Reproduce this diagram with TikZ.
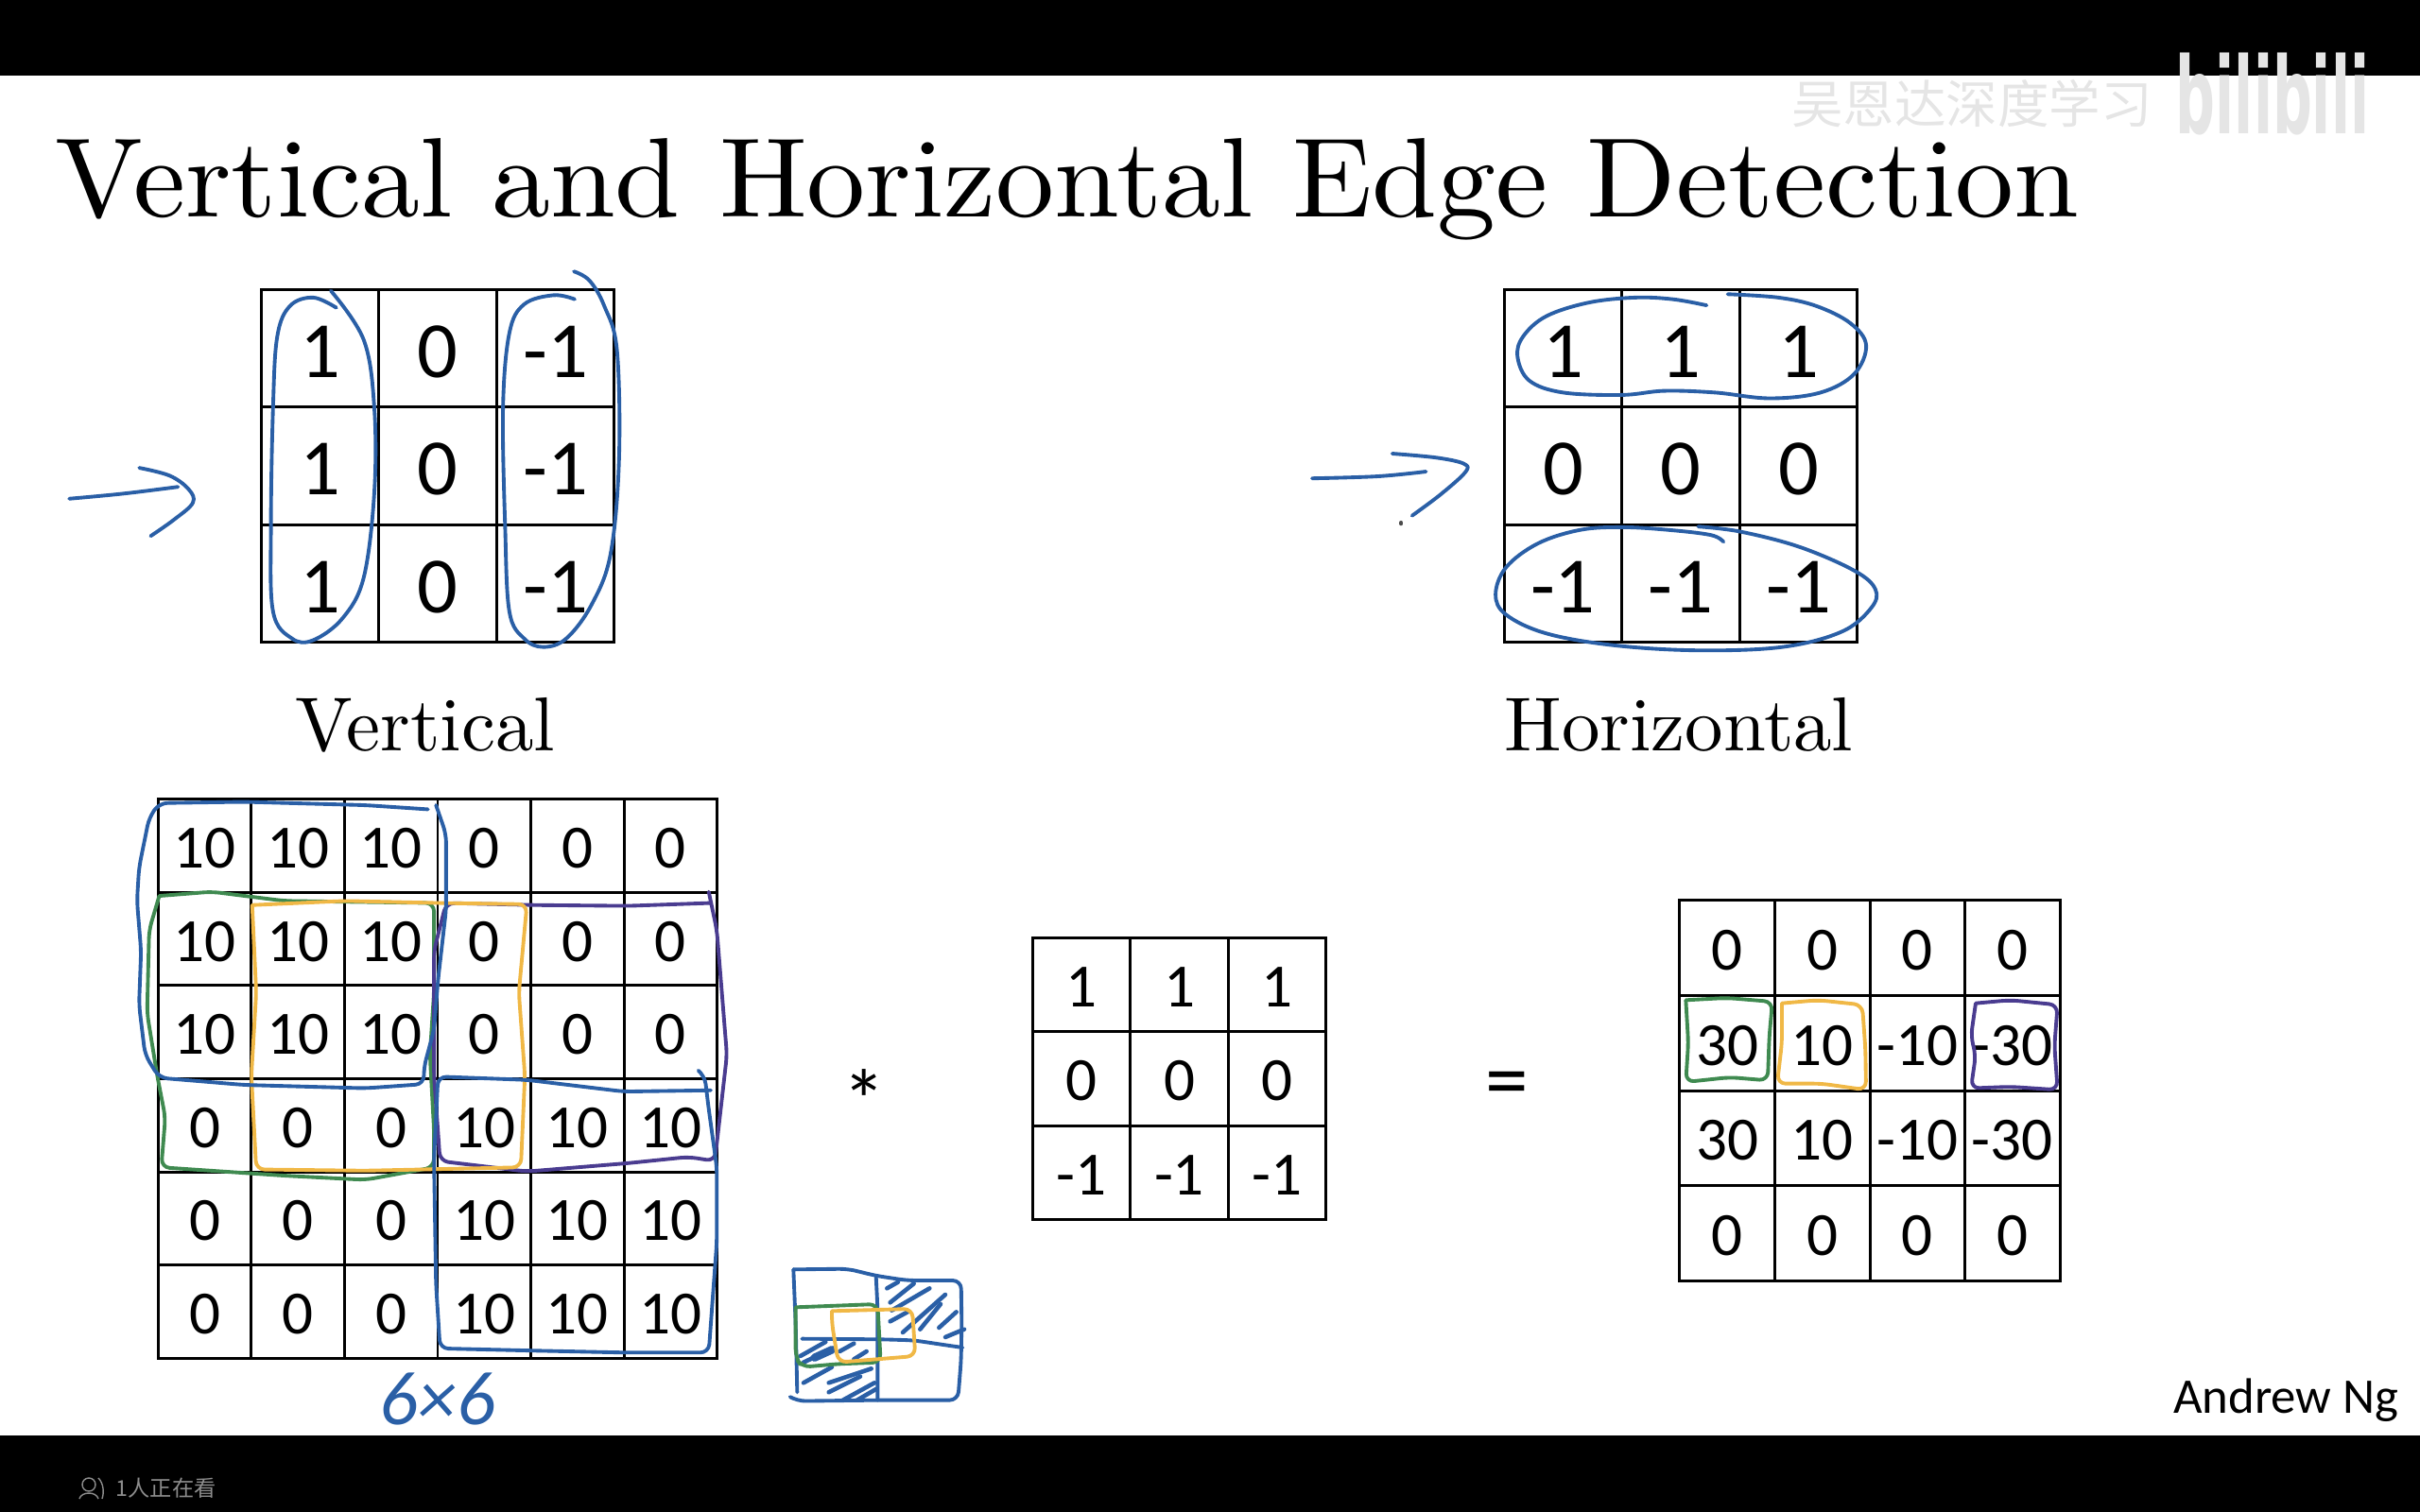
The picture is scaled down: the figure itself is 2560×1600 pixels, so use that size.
\documentclass[tikz,border=0pt]{standalone}
\usepackage{fontspec}
\usetikzlibrary{matrix}
\newfontfamily\slidefont{lmroman10-regular}[Extension=.otf]
\newfontfamily\calibri{Carlito}
\newfontfamily\cjk{Noto Sans CJK SC}
\newfontfamily\logofont{DejaVu Sans}
\definecolor{inkblue}{HTML}{2A5FA6}
\definecolor{inkgreen}{HTML}{3F8A50}
\definecolor{inkyellow}{HTML}{F0B846}
\definecolor{inkpurple}{HTML}{4A3C90}
\begin{document}
\begin{tikzpicture}[x=0.01cm,y=-0.01cm,
    % the grids:
    grid/.style={matrix of nodes,inner sep=0pt,outer sep=0pt,
      column sep=-.85pt,row sep=-.85pt,
      nodes={rectangle,draw=black,line width=.85pt,inner sep=0pt,outer sep=0pt,
        text depth=0pt,minimum width=#1,minimum height=#1}},
    bigdigits/.style={nodes={font=\calibri\fontsize{24}{28}\selectfont,text height=17.5pt}},
    smalldigits/.style={nodes={font=\calibri\fontsize{18.5}{22}\selectfont,text height=13.3pt}},
    % the pen strokes:
    ink/.style={draw=inkblue,line width=1.1pt,line cap=round,line join=round,smooth,tension=.6},
    boxink/.style={draw=#1,line width=1.1pt,line cap=round,line join=round,rounded corners=2.5pt},
    hatch/.style={ink,line width=1.3pt},
    % the crops the strokes were traced in:
    leftpart/.style={shift={(50,270)},xscale=.4464,yscale=.359},
    rightpart/.style={shift={(1350,270)},xscale=.4464,yscale=.359},
    sixpart/.style={shift={(130,830)},xscale=.4274,yscale=.4405},
    sketchpart/.style={shift={(800,1300)},xscale=.3333,yscale=.3333},
    resultpart/.style={shift={(1750,930)},xscale=.3333,yscale=.3333},
    heading/.style={font=\slidefont\fontsize{34}{40}\selectfont,inner sep=0pt},
    caption/.style={font=\slidefont\fontsize{23}{28}\selectfont,inner sep=0pt}]
  \useasboundingbox (0,0) rectangle (2560,1600);
  \fill[black] (0,0) rectangle (2560,80);
  \fill[black] (0,1519) rectangle (2560,1600);

  % watermark and footer
  \node[text=black!10,font=\cjk\fontsize{15.5}{18}\selectfont,inner sep=0pt] (mark) at (2086,110) {吴恩达深度学习};
  \node[text=black!10,font=\logofont\bfseries\fontsize{32}{36}\selectfont,inner sep=0pt,xscale=.52] (logo) at (2404,100) {bilibili};
  \node[text=black!45,font=\cjk\fontsize{6.6}{8}\selectfont,inner sep=0pt,anchor=west] (viewers) at (122,1575) {1人正在看};
  \draw[black!45,line width=.4pt] (94,1571) circle [radius=7];
  \draw[black!45,line width=.4pt] (84,1586) .. controls (86,1578) and (102,1578) .. (104,1586);
  \draw[black!45,line width=.4pt] (104,1564) .. controls (110,1570) and (110,1580) .. (108,1586);

  \node[heading,anchor=base west,xscale=1.036] (title) at (58,229) {Vertical and Horizontal Edge Detection};
  \node[caption,anchor=base] (vlabel) at (450,794) {Vertical};
  \node[caption,anchor=base] (hlabel) at (1776,794) {Horizontal};

  % the filters
  \matrix[grid=1.245cm,bigdigits] (vert) at (463,493) {
    1 & 0 & -1 \\
    1 & 0 & -1 \\
    1 & 0 & -1 \\};
  \matrix[grid=1.245cm,bigdigits] (horiz) at (1778,493) {
    1 & 1 & 1 \\
    0 & 0 & 0 \\
    -1 & -1 & -1 \\};

  % the convolution
  \matrix[grid=.985cm,smalldigits] (image) at (463,1141.5) {
    10 & 10 & 10 & 0 & 0 & 0 \\
    10 & 10 & 10 & 0 & 0 & 0 \\
    10 & 10 & 10 & 0 & 0 & 0 \\
    0 & 0 & 0 & 10 & 10 & 10 \\
    0 & 0 & 0 & 10 & 10 & 10 \\
    0 & 0 & 0 & 10 & 10 & 10 \\};
  \node[font=\calibri\fontsize{26}{30}\selectfont,inner sep=0pt] (times) at (914,1164) {*};
  \matrix[grid=1.035cm,smalldigits,nodes={minimum height=.995cm}] (kernel) at (1247.5,1141.5) {
    1 & 1 & 1 \\
    0 & 0 & 0 \\
    -1 & -1 & -1 \\};
  \node[font=\calibri\fontsize{26}{30}\selectfont,inner sep=0pt] (equals) at (1594,1154) {=};
  \matrix[grid=1.005cm,smalldigits] (result) at (1978,1154) {
    0 & 0 & 0 & 0 \\
    30 & 10 & -10 & -30 \\
    30 & 10 & -10 & -30 \\
    0 & 0 & 0 & 0 \\};
  \node[font=\calibri\fontsize{15}{18}\selectfont,inner sep=0pt,anchor=base east] (author) at (2538,1495) {Andrew Ng};
  \node[text=inkblue,font=\calibri\itshape\fontsize{23}{26}\selectfont,inner sep=0pt] (size) at (463,1480) {6×6};

  % pen strokes on the filters
  \begin{scope}[leftpart]
    \draw[ink] plot coordinates {(685,155) (630,125) (575,150) (545,240) (535,450) (530,800) (535,1050) (580,1130) (630,1135) (700,1070) (750,950) (775,700) (775,450) (750,250) (672,105)};
    \draw[ink] plot coordinates {(1250,130) (1200,118) (1130,145) (1095,230) (1080,450) (1085,800) (1095,1050) (1130,1130) (1175,1155) (1230,1130) (1290,1030) (1335,880) (1355,600) (1350,280) (1320,150) (1285,75) (1248,48)};
    \draw[ink] plot coordinates {(52,718) (180,703) (310,683)};
    \draw[ink] plot coordinates {(218,627) (290,650) (335,690) (345,730) (300,780) (245,828)};
  \end{scope}
  \begin{scope}[rightpart]
    \draw[ink] plot coordinates {(1020,148) (940,130) (850,125) (740,140) (640,180) (585,240) (572,300) (600,370) (680,405) (820,412) (920,400) (1040,405) (1170,422) (1290,405) (1370,350) (1398,265) (1360,200) (1280,150) (1190,125) (1070,115)};
    \draw[ink] plot coordinates {(1060,845) (1030,825) (930,810) (820,802) (720,810) (620,850) (545,920) (520,1000) (545,1060) (640,1115) (800,1150) (1000,1165) (1200,1155) (1340,1110) (1410,1040) (1420,985) (1370,930) (1240,860) (1100,815) (1000,800)};
    \draw[ink] plot coordinates {(85,658) (240,652) (355,638)};
    \draw[ink] plot coordinates {(275,585) (380,597) (445,615) (448,640) (390,705) (322,768)};
    \draw[ink,draw=black!70] (296,788) -- (296,792);
  \end{scope}

  % pen strokes on the image
  \begin{scope}[sixpart]
    \draw[boxink=inkgreen] (90,268) -- (220,258) -- (400,280) -- (770,285) -- (770,500) -- (760,650) -- (770,830) -- (770,920) -- (600,950) -- (400,940) -- (95,920) -- (105,800) -- (85,700) -- (60,550) -- (65,350) -- (90,268);
    \draw[boxink=inkpurple] (1455,285) -- (1250,292) -- (1020,290) -- (800,285) -- (770,400) -- (770,700) -- (785,905) -- (1000,930) -- (1250,910) -- (1400,895) -- (1465,905) -- (1495,650) -- (1470,350) -- (1450,258);
    \draw[boxink=inkyellow] (320,290) -- (550,280) -- (780,285) -- (1000,288) -- (980,500) -- (995,700) -- (985,920) -- (600,928) -- (330,925) -- (318,700) -- (330,500) -- (320,290);
    \draw[boxink=inkblue] (755,60) -- (600,50) -- (300,42) -- (90,45) -- (65,80) -- (40,200) -- (35,280) -- (45,400) -- (40,530) -- (55,650) -- (90,705) -- (300,722) -- (600,730) -- (745,720) -- (745,680) -- (770,590) -- (780,470) -- (800,300) -- (800,120) -- (775,50);
    \draw[boxink=inkblue] (1455,735) -- (1240,738) -- (1000,710) -- (780,702) -- (770,900) -- (775,1200) -- (785,1355) -- (1000,1360) -- (1240,1365) -- (1450,1365) -- (1470,1100) -- (1470,920) -- (1450,780) -- (1440,700) -- (1425,688);
  \end{scope}

  % the small sketch
  \begin{scope}[sketchpart]
    \draw[boxink=inkblue] (118,130) -- (290,128) -- (380,150) -- (480,165) -- (650,165) -- (652,300) -- (650,420) -- (640,545) -- (380,545) -- (130,548) -- (108,535);
    \draw[boxink=inkblue] (118,130) -- (125,300) -- (130,520);
    \draw[boxink=inkblue] (380,150) -- (385,250) -- (385,545);
    \draw[boxink=inkblue] (145,350) -- (400,352) -- (500,355) -- (600,370) -- (655,378);
    \foreach \a/\b/\c/\d in {415/190/450/170,425/235/500/175,430/260/550/190,425/295/480/265,465/330/600/210,520/320/585/240,580/315/635/265,600/345/660/320,140/405/220/360,150/425/245/380,265/390/310/365,310/415/350/390,150/490/240/440,230/490/365/445,230/520/330/470,275/545/375/490,320/545/380/510}
      \draw[hatch] (\a,\b) -- (\c,\d);
    \draw[hatch,line width=2.4pt] (185,410) -- (240,385);
    \draw[boxink=inkgreen] (125,250) -- (385,240) -- (395,425) -- (260,430) -- (145,440) -- (125,410) -- (125,250);
    \draw[boxink=inkyellow] (240,262) -- (495,255) -- (505,405) -- (260,425) -- (240,300) -- (240,262);
  \end{scope}

  % pen strokes on the output
  \begin{scope}[resultpart]
    \draw[boxink=inkgreen] (100,385) -- (230,378) -- (375,390) -- (365,500) -- (360,640) -- (240,630) -- (100,645) -- (108,520) -- (100,385);
    \draw[boxink=inkyellow] (405,395) -- (520,385) -- (660,400) -- (670,540) -- (672,670) -- (530,650) -- (390,650) -- (405,520) -- (405,395);
    \draw[boxink=inkpurple] (1020,395) -- (1130,385) -- (1280,400) -- (1270,530) -- (1280,670) -- (1130,660) -- (1005,665) -- (1020,560) -- (1005,500) -- (1020,395);
  \end{scope}
\end{tikzpicture}
\end{document}
